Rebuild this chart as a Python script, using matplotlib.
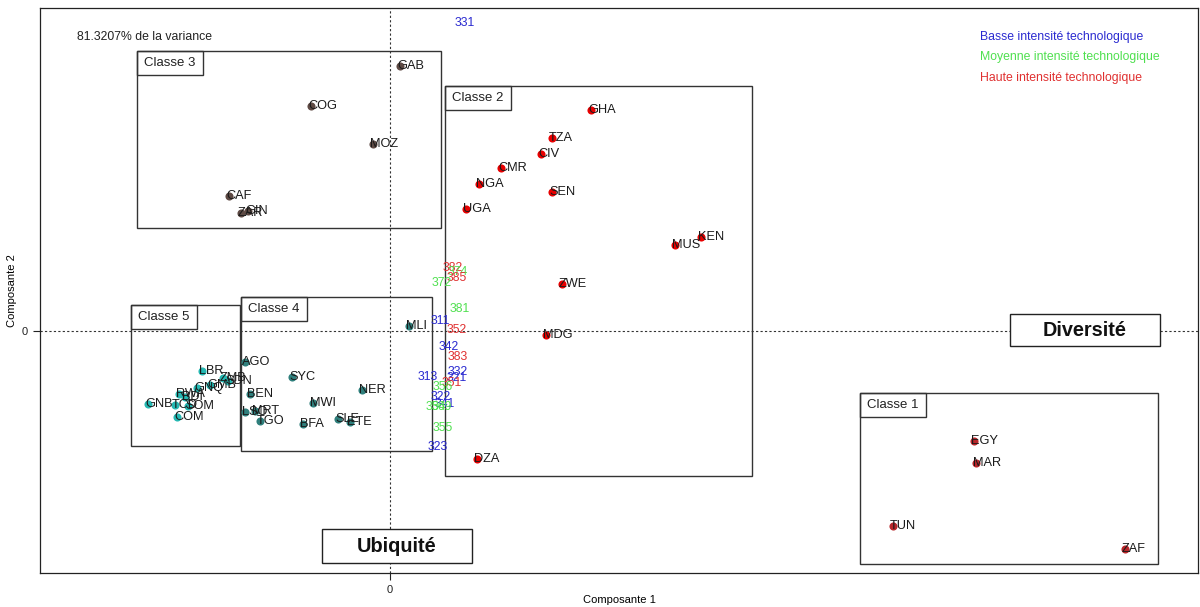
import matplotlib.pyplot as plt
from matplotlib.patches import Rectangle

plt.rcParams['font.family'] = ['Liberation Sans', 'DejaVu Sans']

# pays par classe : (code, composante 1, composante 2)
classe1 = [('EGY', 5.84, -1.10), ('MAR', 5.86, -1.32), ('TUN', 5.03, -1.95), ('ZAF', 7.35, -2.18)]
classe2 = [('GHA', 2.01, 2.21), ('TZA', 1.62, 1.93), ('CIV', 1.51, 1.77), ('CMR', 1.11, 1.63),
           ('NGA', 0.89, 1.47), ('SEN', 1.62, 1.39), ('UGA', 0.76, 1.22), ('KEN', 3.11, 0.94),
           ('MUS', 2.85, 0.86), ('ZWE', 1.72, 0.47), ('MDG', 1.56, -0.04), ('DZA', 0.87, -1.28)]
classe3 = [('GAB', 0.10, 2.65), ('COG', -0.79, 2.25), ('MOZ', -0.17, 1.87), ('CAF', -1.61, 1.35),
           ('GIN', -1.42, 1.20), ('ZAR', -1.49, 1.18)]
classe4 = [('MLI', 0.19, 0.05), ('AGO', -1.45, -0.31), ('SYC', -0.98, -0.46), ('NER', -0.28, -0.59),
           ('BEN', -1.40, -0.63), ('MWI', -0.77, -0.72), ('LSO', -1.45, -0.81), ('MRT', -1.35, -0.80),
           ('TGO', -1.30, -0.90), ('BFA', -0.87, -0.93), ('SLE', -0.52, -0.88), ('ETE', -0.40, -0.91)]
classe5 = [('LBR', -1.88, -0.40), ('ZMB', -1.67, -0.47), ('SDN', -1.62, -0.50), ('GMB', -1.80, -0.54),
           ('GNQ', -1.93, -0.57), ('RWA', -2.11, -0.63), ('BDI', -2.05, -0.66), ('GNB', -2.42, -0.73),
           ('TCD', -2.15, -0.74), ('SOM', -2.02, -0.75), ('COM', -2.13, -0.86)]

# secteurs (variables) : (code, intensité, composante 1, composante 2)
secteurs = [('331', 'B', 0.75, 3.08), ('382', 'H', 0.63, 0.63), ('374', 'M', 0.68, 0.59),
            ('385', 'H', 0.67, 0.53), ('372', 'M', 0.52, 0.48), ('381', 'M', 0.70, 0.22),
            ('311', 'B', 0.50, 0.10), ('352', 'H', 0.67, 0.01), ('342', 'B', 0.59, -0.16),
            ('383', 'H', 0.68, -0.26), ('332', 'B', 0.68, -0.41), ('313', 'B', 0.38, -0.46),
            ('321', 'B', 0.67, -0.47), ('351', 'H', 0.62, -0.52), ('356', 'M', 0.53, -0.56),
            ('322', 'B', 0.51, -0.66), ('341', 'B', 0.55, -0.73), ('354', 'M', 0.46, -0.76),
            ('369', 'M', 0.52, -0.76), ('355', 'M', 0.53, -0.97), ('323', 'B', 0.48, -1.16)]

# cadres des classes : (nom, x0, y0, x1, y1)
cadres = [('Classe 1', 4.70, -2.33, 7.68, -0.62), ('Classe 2', 0.55, -1.45, 3.62, 2.45),
          ('Classe 3', -2.53, 1.03, 0.51, 2.80), ('Classe 4', -1.49, -1.20, 0.42, 0.34),
          ('Classe 5', -2.59, -1.15, -1.50, 0.26)]

# étiquettes des axes factoriels : (texte, x0, y0, x1, y1)
axes_noms = [('Diversité', 6.20, -0.15, 7.70, 0.17), ('Ubiquité', -0.68, -2.32, 0.82, -1.98)]

couleurs_classes = ['#b8262a', '#e80000', '#5e4a44', '#2f7f7c', '#25b8b2']
couleurs_secteurs = {'B': '#2a2ad0', 'M': '#4fe04f', 'H': '#e03030'}

fig = plt.figure(figsize=(12, 6.07), dpi=100)
ax = fig.add_axes([40 / 1200, 34 / 607, 1158 / 1200, 565 / 607])
ax.set_xlim(-3.5, 8.08)
ax.set_ylim(-2.42, 3.23)

ax.axhline(0, color='#333333', lw=0.8, ls=(0, (2, 2)), zorder=1)
ax.axvline(0, color='#333333', lw=0.8, ls=(0, (2, 2)), zorder=1)

for nom, x0, y0, x1, y1 in cadres:
    ax.add_patch(Rectangle((x0, y0), x1 - x0, y1 - y0, fill=False, ec='#333333', lw=1, zorder=2))
    ax.add_patch(Rectangle((x0, y1 - 0.24), 0.66, 0.24, fill=False, ec='#333333', lw=1, zorder=2))
    ax.text(x0 + 0.07, y1 - 0.12, nom, fontsize=9.5, va='center', ha='left', color='#222222')

for pays, c in zip([classe1, classe2, classe3, classe4, classe5], couleurs_classes):
    xs = [p[1] for p in pays]
    ys = [p[2] for p in pays]
    ax.scatter(xs, ys, s=34, color=c, zorder=3, linewidths=0)
    for code, x, y in pays:
        ax.annotate(code, (x, y), xytext=(-3, 0), textcoords='offset pixels',
                    fontsize=9.2, va='center', ha='left', color='#1a1a1a', zorder=4)

for code, inten, x, y in secteurs:
    ax.text(x, y, code, fontsize=8.8, ha='center', va='center', color=couleurs_secteurs[inten], zorder=4)

for nom, x0, y0, x1, y1 in axes_noms:
    ax.add_patch(Rectangle((x0, y0), x1 - x0, y1 - y0, fc='white', ec='#222222', lw=1, zorder=5))
    ax.text((x0 + x1) / 2, (y0 + y1) / 2, nom, fontsize=14.3, fontweight='bold',
            ha='center', va='center', color='#111111', zorder=6)

ax.text(-3.13, 2.94, '81.3207% de la variance', fontsize=8.8, ha='left', va='center', color='#222222')
ax.text(5.90, 2.94, 'Basse intensité technologique', fontsize=8.8, color=couleurs_secteurs['B'], va='center')
ax.text(5.90, 2.74, 'Moyenne intensité technologique', fontsize=8.8, color=couleurs_secteurs['M'], va='center')
ax.text(5.90, 2.53, 'Haute intensité technologique', fontsize=8.8, color=couleurs_secteurs['H'], va='center')

ax.set_xticks([0])
ax.set_yticks([0])
ax.tick_params(labelsize=8, length=5, width=0.8, colors='#222222')
ax.set_xlabel('Composante 1', fontsize=8, labelpad=0)
ax.set_ylabel('Composante 2', fontsize=8, labelpad=4)
for s in ax.spines.values():
    s.set_color('#222222')
    s.set_linewidth(0.9)

fig.savefig('out.png', dpi=100)
